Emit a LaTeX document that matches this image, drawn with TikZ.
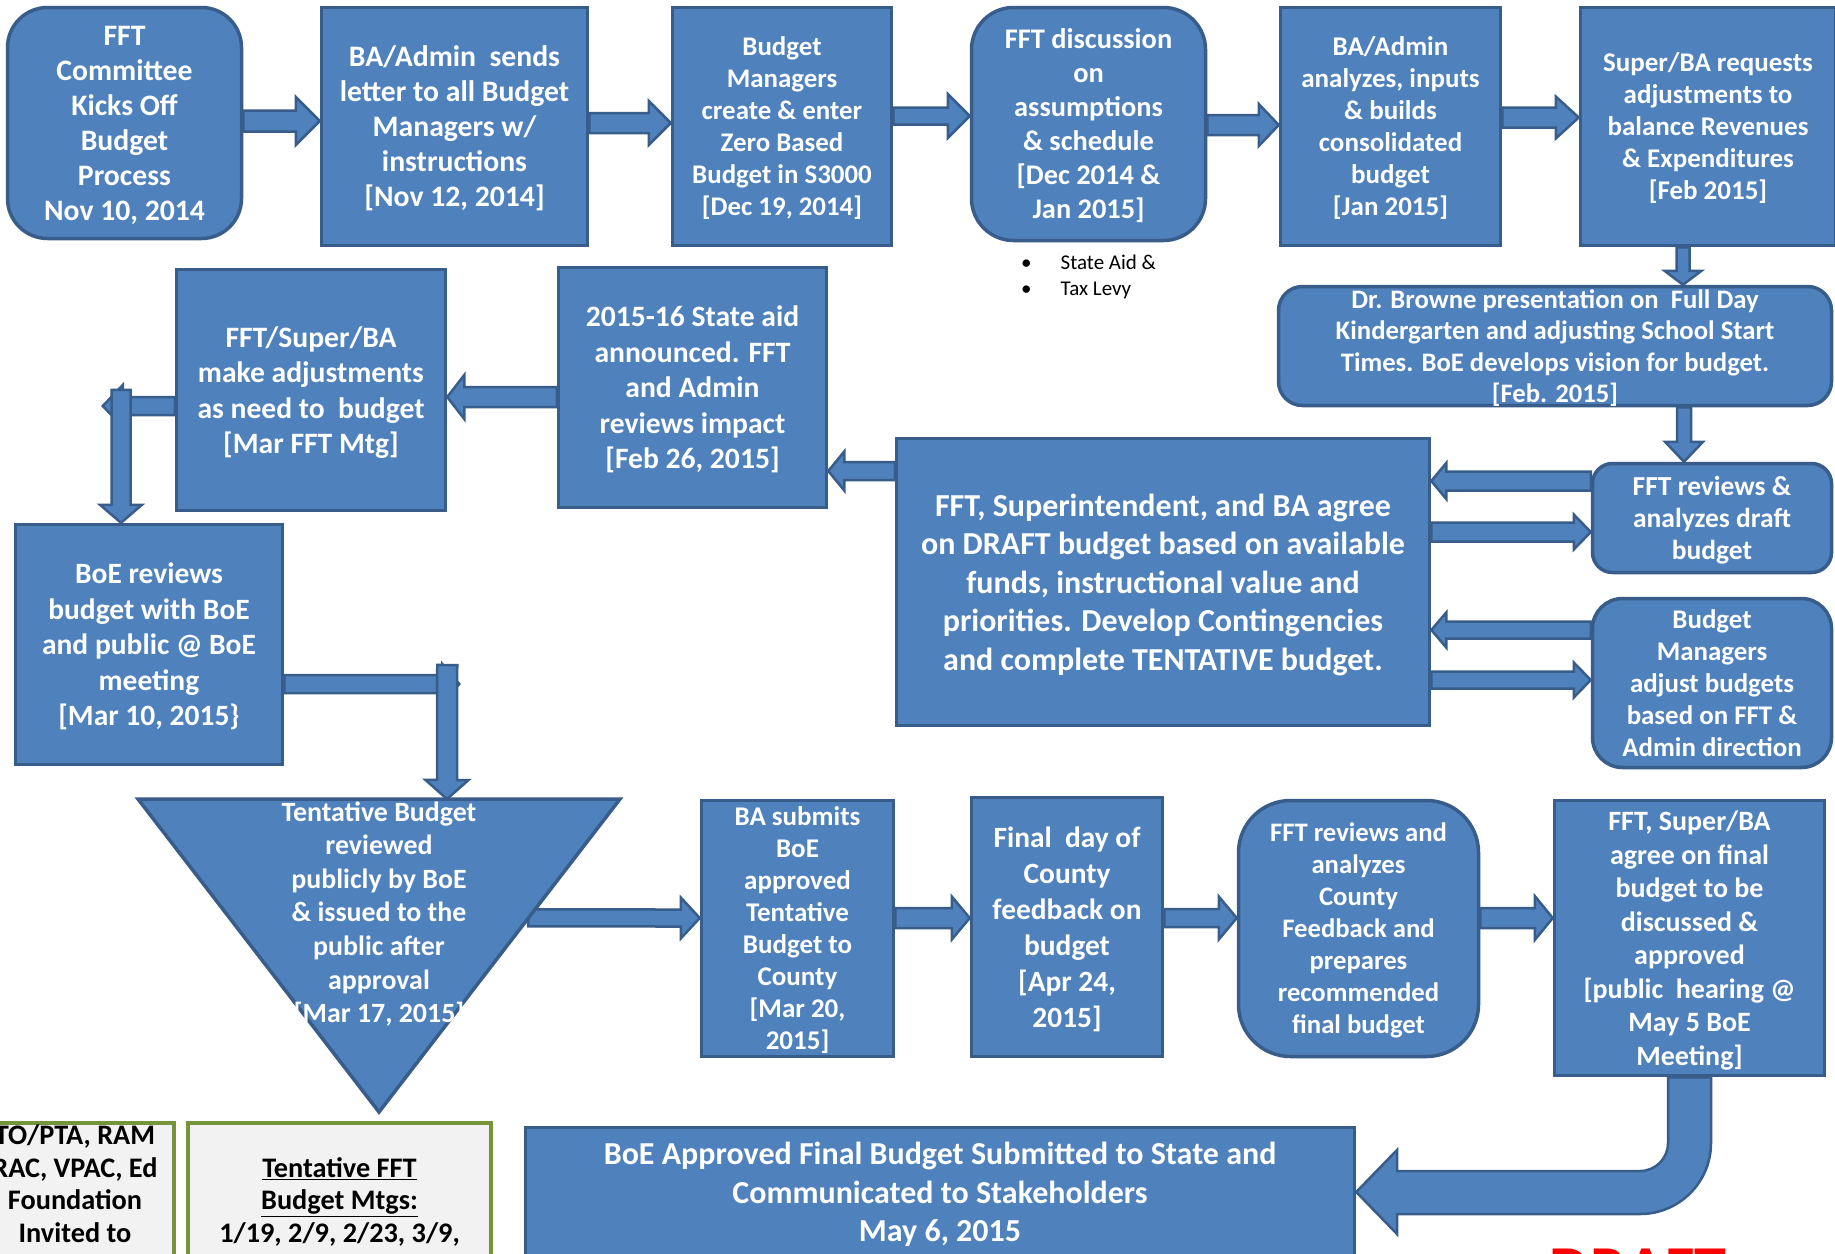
\documentclass[tikz,border=0pt]{standalone}
\usepackage{fontspec}
\setmainfont{Carlito}
\usetikzlibrary{calc}
\definecolor{bfill}{HTML}{4F81BD}
\definecolor{bline}{HTML}{385D8A}
\definecolor{gline}{HTML}{77933C}
\definecolor{gfill}{HTML}{F2F2F2}
\pgfdeclarelayer{bg}
\pgfdeclarelayer{arr}
\pgfsetlayers{bg,arr,main}
\tikzset{
  fs/.style 2 args={font=\bfseries\fontsize{#1}{#2}\selectfont},
  pbox/.style={draw=bline, fill=bfill, line width=3.5pt, text=white, align=center, inner sep=0pt, text depth=-3pt, fs={29.7}{35}},
  gbox/.style={draw=gline, fill=gfill, line width=4pt, inner sep=0pt},
  gtext/.style={text=black, align=center, inner sep=0pt, text depth=-3pt, fs={28.3}{32.5}},
  arrowshape/.style={draw=bline, fill=bfill, line width=2.5pt, line join=miter},
  barrow/.style n args={3}{arrowshape, to path={
    let \p1=(\tikztostart), \p2=(\tikztotarget), \p3=($(\p2)!#3!(\p1)$) in
    ($(\p1)!#1!90:(\p2)$) -- ($(\p3)!#1!90:(\p2)$) -- ($(\p3)!#2!90:(\p2)$) -- (\p2)
    -- ($(\p3)!#2!-90:(\p2)$) -- ($(\p3)!#1!-90:(\p2)$) -- ($(\p1)!#1!-90:(\p2)$) -- cycle}},
}
\begin{document}
\begin{tikzpicture}[x=1pt,y=-1pt]
\begin{pgfonlayer}{bg}
\fill[white] (0,0) rectangle (1835,1253);
\end{pgfonlayer}
\useasboundingbox (0,0) rectangle (1835,1253);

% row 1
\node[pbox, minimum width=234pt, minimum height=231pt, rounded corners=40pt] (b1) at (124.5,123)
  {FFT\\Committee\\Kicks Off\\Budget\\Process\\Nov 10, 2014};
\node[pbox, minimum width=266pt, minimum height=238pt] (b2) at (454.5,126.5)
  {BA/Admin\ \ sends\\letter to all Budget\\Managers w/\\instructions\\ {[Nov 12, 2014]}};
\node[pbox, fs={26.9}{32}, minimum width=219pt, minimum height=238pt] (b3) at (782,126.5)
  {Budget\\Managers\\create \& enter\\Zero Based\\Budget in S3000\\ {[Dec 19, 2014]}};
\node[pbox, fs={28.4}{34}, minimum width=234pt, minimum height=233pt, rounded corners=42pt] (b4) at (1088.5,124)
  {FFT discussion\\on\\assumptions\\\& schedule\\ {[Dec 2014 \&}\\Jan 2015]};
\node[pbox, fs={27}{32}, minimum width=220pt, minimum height=238pt] (b5) at (1390.5,126.5)
  {BA/Admin\\analyzes, inputs\\\& builds\\consolidated\\budget\\ {[Jan 2015]}};
\node[pbox, fs={27}{32}, minimum width=255pt, minimum height=238pt] (b6) at (1708,126.5)
  {Super/BA requests\\adjustments to\\balance Revenues\\\& Expenditures\\ {[Feb 2015]}};
\node[anchor=west, align=left, inner sep=0pt, font=\fontsize{21}{26}\selectfont] (bul) at (1021,276.5)
  {\textbullet\hspace{29pt}State Aid \&\\\textbullet\hspace{29pt}Tax Levy};

% right column
\node[pbox, fs={26.7}{31.5}, minimum width=553pt, minimum height=119pt, rounded corners=24pt] (b7) at (1555,346)
  {Dr. Browne presentation on\ \ Full Day\\Kindergarten and adjusting School Start\\Times. BoE develops vision for budget.\\ {[Feb. 2015]}};
\node[pbox, fs={32}{38.5}, minimum width=533pt, minimum height=287pt] (b8) at (1163,582)
  {FFT, Superintendent, and BA agree\\on DRAFT budget based on available\\funds, instructional value and\\priorities. Develop Contingencies\\and complete TENTATIVE budget.};
\node[pbox, fs={27.5}{32}, minimum width=239pt, minimum height=109pt, rounded corners=20pt] (b9) at (1712,518)
  {FFT reviews \&\\analyzes draft\\budget};
\node[pbox, fs={26.9}{32}, minimum width=239pt, minimum height=169pt, rounded corners=30pt] (b10) at (1712,683)
  {Budget\\Managers\\adjust budgets\\based on FFT \&\\Admin direction};

% row 2
\node[pbox, fs={29.6}{35.5}, minimum width=268pt, minimum height=240pt] (b11) at (692.5,387.5)
  {2015-16 State aid\\announced. FFT\\and Admin\\reviews impact\\ {[Feb 26, 2015]}};
\node[pbox, fs={29.6}{35.5}, minimum width=269pt, minimum height=241pt] (b12) at (311,390)
  {FFT/Super/BA\\make adjustments\\as need to\ \ budget\\ {[Mar FFT Mtg]}};
\node[pbox, fs={29.5}{35.5}, minimum width=267pt, minimum height=240pt] (b13) at (149,644.5)
  {BoE reviews\\budget with BoE\\and public @ BoE\\meeting\\ {[Mar 10, 2015\}}};

% triangle
\coordinate (tl) at (138,799);
\coordinate (tr) at (620,799);
\coordinate (tb) at (379,1112);
\draw[draw=bline, fill=bfill, line width=3.5pt, line join=miter] (tl) -- (tr) -- (tb) -- cycle;
\node[text=white, align=center, inner sep=0pt, text depth=-3pt, fs={27.9}{33.6}] (tri) at (379,912)
  {Tentative Budget\\reviewed\\publicly by BoE\\\& issued to the\\public after\\approval\\ {[Mar 17, 2015]}};

% row 3
\node[pbox, fs={27}{32}, minimum width=192pt, minimum height=256pt] (b14) at (797.5,928.5)
  {BA submits\\BoE\\approved\\Tentative\\Budget to\\County\\ {[Mar 20,}\\2015]};
\node[pbox, fs={29.4}{36}, minimum width=191pt, minimum height=259pt] (b15) at (1067,927)
  {Final\ \ day of\\County\\feedback on\\budget\\ {[Apr 24,}\\2015]};
\node[pbox, fs={26.7}{32}, minimum width=240pt, minimum height=256pt, rounded corners=52pt] (b16) at (1358.5,928.5)
  {FFT reviews and\\analyzes\\County\\Feedback and\\prepares\\recommended\\final budget};
\node[pbox, fs={28}{33.5}, minimum width=270pt, minimum height=275pt] (b17) at (1689.5,938)
  {FFT, Super/BA\\agree on final\\budget to be\\discussed \&\\approved\\ {[public\ \ hearing @}\\May 5 BoE\\Meeting]};
\node[pbox, fs={32}{38.6}, minimum width=829pt, minimum height=129pt] (b18) at (940,1192)
  {BoE Approved Final Budget Submitted to State and\\Communicated to Stakeholders\\May 6, 2015};

% bottom left boxes
\node[gbox, anchor=north, minimum width=210pt, minimum height=260pt] (g1) at (69,1121) {};
\node[gtext] (g1t) at (75,1183.5) {TO/PTA, RAM\\RAC, VPAC, Ed\\Foundation\\Invited to};
\node[gbox, anchor=north, minimum width=303pt, minimum height=260pt] (g2) at (339.5,1121) {};
\node[gtext] (g2t) at (339.5,1200) {\underline{Tentative FFT}\\\underline{Budget Mtgs:}\\1/19, 2/9, 2/23, 3/9,};

\node[text=red, font=\bfseries\fontsize{64}{70}\selectfont, anchor=north, inner sep=0pt] (draft) at (1638,1249) {DRAFT};

% connectors
\coordinate (e1) at ($(b12.west)+(-72,16)$);
\coordinate (e1v) at ($(b13.north)+(-28,-133)$);
\coordinate (e2) at ($(b13.east)+(175,39.5)$);
\coordinate (e2v) at ($(e2)+(-12,-19)$);
\coordinate (ttop) at ($(tl)!0.641!(tr)$);
\coordinate (tside) at ($(tr)!0.38!(tb)$);

\begin{pgfonlayer}{arr}
\draw[barrow={10.5pt}{24pt}{24pt}] ([yshift=2pt]b1.east) to ([yshift=5.5pt]b2.west);
\draw[barrow={10pt}{22pt}{22pt}] ([yshift=3.5pt]b2.east) to ([yshift=3.5pt]b3.west);
\draw[barrow={8.5pt}{22pt}{22pt}] ([yshift=10.5pt]b3.east) to ([yshift=8pt]b4.west);
\draw[barrow={10pt}{21pt}{20pt}] ([yshift=-1pt]b4.east) to ([yshift=1.5pt]b5.west);
\draw[barrow={10pt}{21pt}{23pt}] ([yshift=9pt]b5.east) to ([yshift=9pt]b6.west);
\draw[barrow={6.5pt}{18.5pt}{14pt}] ([xshift=-25pt]b6.south) to ([xshift=128pt]b7.north);
\draw[barrow={7pt}{19pt}{20pt}] ([xshift=129pt]b7.south) to ([xshift=-28pt]b9.north);
\draw[barrow={9.5pt}{18pt}{15pt}] ([yshift=37pt]b9.west) to ([yshift=101pt]b8.east);
\draw[barrow={9.5pt}{17.5pt}{17pt}] ([yshift=50pt]b8.east) to ([yshift=-14pt]b9.west);
\draw[barrow={8.5pt}{17.5pt}{15pt}] ([yshift=53pt]b10.west) to ([yshift=-48pt]b8.east);
\draw[barrow={8.5pt}{17.5pt}{17pt}] ([yshift=-98pt]b8.east) to ([yshift=3pt]b10.west);
\draw[barrow={9pt}{19.5pt}{16pt}] ([yshift=111pt]b8.west) to ([yshift=-83.5pt]b11.east);
\draw[barrow={10pt}{22pt}{17pt}] ([yshift=-9.5pt]b11.west) to ([yshift=-7pt]b12.east);
\draw[barrow={9pt}{21pt}{20pt}] ([yshift=-16pt]b12.west) to (e1);
\draw[barrow={9.5pt}{21pt}{18pt}] (e1v) to ([xshift=-28pt]b13.north);
\draw[barrow={9pt}{20pt}{17pt}] ([yshift=-39.5pt]b13.east) to (e2);
\draw[barrow={10pt}{21.5pt}{19pt}] (e2v) to (ttop);
\draw[barrow={8.5pt}{20.5pt}{19pt}] (tside) to ([yshift=10.5pt]b14.west);
\draw[barrow={10pt}{21.5pt}{18pt}] ([yshift=10.5pt]b14.east) to ([yshift=9pt]b15.west);
\draw[barrow={9pt}{21.5pt}{18pt}] ([yshift=9pt]b15.east) to ([yshift=10.5pt]b16.west);
\draw[barrow={10pt}{22pt}{18pt}] ([yshift=10.5pt]b16.east) to ([yshift=20pt]b17.west);
\draw[arrowshape] ($(b17.south)+(-21.5,0)$) -- (1668,1143)
  .. controls (1668,1158.5) and (1655.5,1171) .. (1640,1171) -- (1397,1171) -- (1397,1150)
  -- (b18.east) -- (1397,1234) -- (1397,1214) -- (1640,1214)
  .. controls (1679.2,1214) and (1711,1182.2) .. (1711,1143) -- ($(b17.south)+(21.5,0)$) -- cycle;
\end{pgfonlayer}
\end{tikzpicture}
\end{document}
